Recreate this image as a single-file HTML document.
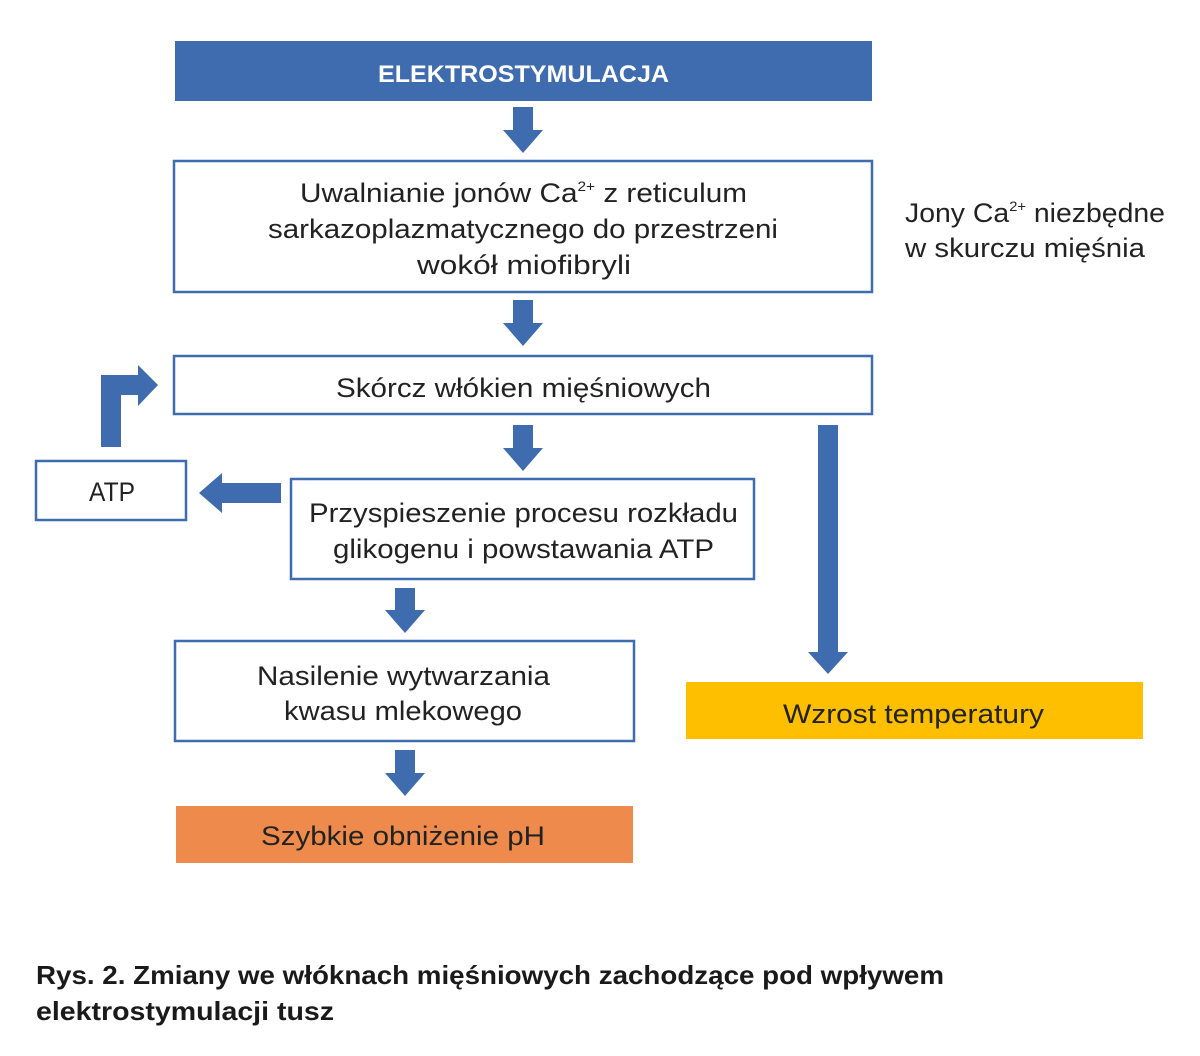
<!DOCTYPE html>
<html><head><meta charset="utf-8"><style>
html,body{margin:0;padding:0;background:#fff;}
svg{display:block;}
text{font-family:"Liberation Sans",sans-serif;}
</style></head><body>
<svg width="1200" height="1056" viewBox="0 0 1200 1056" xmlns="http://www.w3.org/2000/svg">
<rect width="1200" height="1056" fill="#fff"/>
<g fill="#3e6cae">
<rect x="175" y="41" width="697" height="60"/>
<polygon points="513,107 533,107 533,130 543,130 523,153 503,130 513,130"/>
<polygon points="513,300 533,300 533,323 543,323 523,346 503,323 513,323"/>
<polygon points="513,425 533,425 533,448 543,448 523,471 503,448 513,448"/>
<polygon points="395,588 415,588 415,610 425,610 405,633 385,610 395,610"/>
<polygon points="395,750 415,750 415,773 425,773 405,796 385,773 395,773"/>
<polygon points="818,425 838,425 838,652 848,652 828,674 808,652 818,652"/>
<polygon points="281,483 281,503 222,503 222,513 199,493 222,473 222,483"/>
<polygon points="101,447 121,447 121,395 138,395 138,406 158,385 138,365 138,375 101,375"/>
</g>
<text x="378" y="82" textLength="291" lengthAdjust="spacingAndGlyphs" fill="#fff" font-size="24" font-weight="bold">ELEKTROSTYMULACJA</text>
<g fill="none" stroke="#3e6cae" stroke-width="2.5">
<rect x="174" y="161" width="698" height="131"/>
<rect x="174" y="356" width="698" height="58"/>
<rect x="36" y="461" width="150" height="59"/>
<rect x="291" y="479" width="463" height="100"/>
<rect x="175" y="641" width="459" height="100"/>
</g>
<rect x="176" y="806" width="457" height="57" fill="#ee8b4c"/>
<rect x="686" y="682" width="457" height="57" fill="#fdbf00"/>
<g font-size="27" fill="#222">
<text x="300" y="202" textLength="447" lengthAdjust="spacingAndGlyphs">Uwalnianie jonów Ca<tspan font-size="14" dy="-11">2+</tspan><tspan dy="11"> z reticulum</tspan></text>
<text x="268" y="238" textLength="510" lengthAdjust="spacingAndGlyphs">sarkazoplazmatycznego do przestrzeni</text>
<text x="417" y="274" textLength="214" lengthAdjust="spacingAndGlyphs">wokół miofibryli</text>
<text x="336" y="397" textLength="375" lengthAdjust="spacingAndGlyphs">Skórcz włókien mięśniowych</text>
<text x="89" y="501" textLength="46" lengthAdjust="spacingAndGlyphs">ATP</text>
<text x="309" y="522" textLength="429" lengthAdjust="spacingAndGlyphs">Przyspieszenie procesu rozkładu</text>
<text x="333" y="558" textLength="381" lengthAdjust="spacingAndGlyphs">glikogenu i powstawania ATP</text>
<text x="257" y="685" textLength="293" lengthAdjust="spacingAndGlyphs">Nasilenie wytwarzania</text>
<text x="284" y="720" textLength="238" lengthAdjust="spacingAndGlyphs">kwasu mlekowego</text>
<text x="261" y="845" textLength="284" lengthAdjust="spacingAndGlyphs">Szybkie obniżenie pH</text>
<text x="783" y="723" textLength="261" lengthAdjust="spacingAndGlyphs">Wzrost temperatury</text>
<text x="905" y="222" textLength="260" lengthAdjust="spacingAndGlyphs">Jony Ca<tspan font-size="14" dy="-11">2+</tspan><tspan dy="11"> niezbędne</tspan></text>
<text x="905" y="257" textLength="240" lengthAdjust="spacingAndGlyphs">w skurczu mięśnia</text>
</g>
<g font-size="26" font-weight="bold" fill="#1a1a1a">
<text x="36" y="984" textLength="908" lengthAdjust="spacingAndGlyphs">Rys. 2. Zmiany we włóknach mięśniowych zachodzące pod wpływem</text>
<text x="36" y="1020" textLength="298" lengthAdjust="spacingAndGlyphs">elektrostymulacji tusz</text>
</g>
</svg>
</body></html>
